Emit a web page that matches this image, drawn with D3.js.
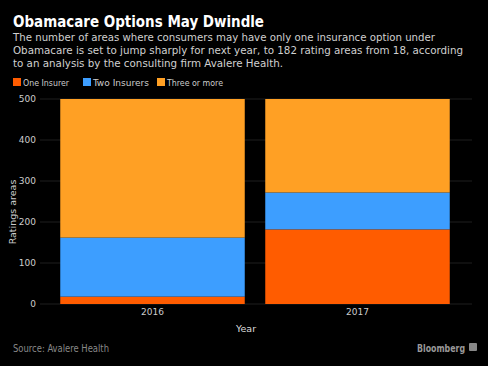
<!DOCTYPE html>
<html><head><meta charset="utf-8">
<script src="https://cdn.jsdelivr.net/npm/d3@7"></script>
<style>
html,body{margin:0;padding:0;background:#000;}
svg{display:block;}
text{font-family:"DejaVu Sans",Verdana,sans-serif;}
.cond{font-family:"DejaVu Sans Condensed","DejaVu Sans",sans-serif;}
</style></head>
<body>
<script>
const years = ["2016", "2017"];
const seriesNames = ["One Insurer", "Two Insurers", "Three or more"];
const oneInsurer = [18, 182];
const twoInsurers = [144, 90];
const threeOrMore = [338, 228];
const yTicks = [0, 100, 200, 300, 400, 500];
const colors = ["#ff5c00", "#3d9eff", "#ffa024"];

const W = 488, H = 366;
const svg = d3.select("body").append("svg").attr("width", W).attr("height", H);
svg.append("rect").attr("width", W).attr("height", H).attr("fill", "#000");

function squeeze(sel, target) {
  sel.attr("textLength", target).attr("lengthAdjust", "spacingAndGlyphs");
  return sel;
}

// Title
squeeze(svg.append("text").attr("class", "cond").attr("x", 13).attr("y", 27).attr("fill", "#fff")
  .attr("font-size", 15.5).attr("font-weight", "bold").text("Obamacare Options May Dwindle"), 251);
const sub = [
  "The number of areas where consumers may have only one insurance option under",
  "Obamacare is set to jump sharply for next year, to 182 rating areas from 18, according",
  "to an analysis by the consulting firm Avalere Health."
];
const subW = [422, 450, 270];
sub.forEach((s, i) => squeeze(svg.append("text").attr("class", "cond").attr("x", 13).attr("y", 41 + i * 13).attr("fill", "#d0d0d0")
    .attr("font-size", 11.3).text(s), subW[i]));

// Legend
const legX = [13, 83, 157];
const legW = [46, 56, 56];
seriesNames.forEach((n, i) => {
  svg.append("rect").attr("x", legX[i]).attr("y", 78).attr("width", 8).attr("height", 8).attr("fill", colors[i]);
  squeeze(svg.append("text").attr("class", "cond").attr("x", legX[i] + 10).attr("y", 86).attr("fill", "#ccc")
    .attr("font-size", 9.5).text(n), legW[i]);
});

// Scales
const y = d3.scaleLinear().domain([0, 500]).range([304, 99]);
const x = d3.scaleBand().domain(years).range([50, 460]).paddingInner(0.1).paddingOuter(0.05);

// Grid
svg.append("g").selectAll("line").data(yTicks).join("line")
  .attr("x1", 40).attr("x2", 472).attr("y1", d => y(d)).attr("y2", d => y(d))
  .attr("stroke", "#1e1e1e").attr("stroke-width", 1);

// Y axis
const yAxis = d3.axisLeft(y).tickValues(yTicks).tickSize(0).tickPadding(0);
const ya = svg.append("g").attr("transform", "translate(36,0)").call(yAxis);
ya.select(".domain").remove();
ya.selectAll("text").attr("fill", "#ccc").attr("font-size", 9).attr("font-family", "DejaVu Sans");

svg.append("text").attr("transform", "translate(16,212) rotate(-90)").attr("text-anchor", "middle")
  .attr("fill", "#ccc").attr("font-size", 9.5).text("Ratings areas");

// Stacks
const rows = years.map((yr, i) => ({year: yr, a: oneInsurer[i], b: twoInsurers[i], c: threeOrMore[i]}));
const stack = d3.stack().keys(["a", "b", "c"])(rows);
svg.append("g").selectAll("g").data(stack).join("g").attr("fill", (d, i) => colors[i])
  .selectAll("rect").data(d => d).join("rect")
  .attr("x", d => x(d.data.year)).attr("width", x.bandwidth())
  .attr("y", d => y(d[1])).attr("height", d => y(d[0]) - y(d[1]));

// X axis
const xAxis = d3.axisBottom(x).tickSize(0).tickPadding(0);
const xa = svg.append("g").attr("transform", "translate(0,309)").call(xAxis);
xa.select(".domain").remove();
xa.selectAll("text").attr("fill", "#ccc").attr("font-size", 9).attr("font-family", "DejaVu Sans");

svg.append("text").attr("x", 246).attr("y", 332).attr("text-anchor", "middle")
  .attr("fill", "#ddd").attr("font-size", 9.5).text("Year");

// Footer
squeeze(svg.append("text").attr("class", "cond").attr("x", 13).attr("y", 352).attr("fill", "#888").attr("font-size", 10).text("Source: Avalere Health"), 96);
squeeze(svg.append("text").attr("class", "cond").attr("x", 417).attr("y", 352).attr("fill", "#999")
  .attr("font-size", 10).attr("font-weight", "bold").text("Bloomberg"), 48);
svg.append("rect").attr("x", 469).attr("y", 343).attr("width", 8).attr("height", 8).attr("rx", 1).attr("fill", "#888");
</script>
</body></html>
